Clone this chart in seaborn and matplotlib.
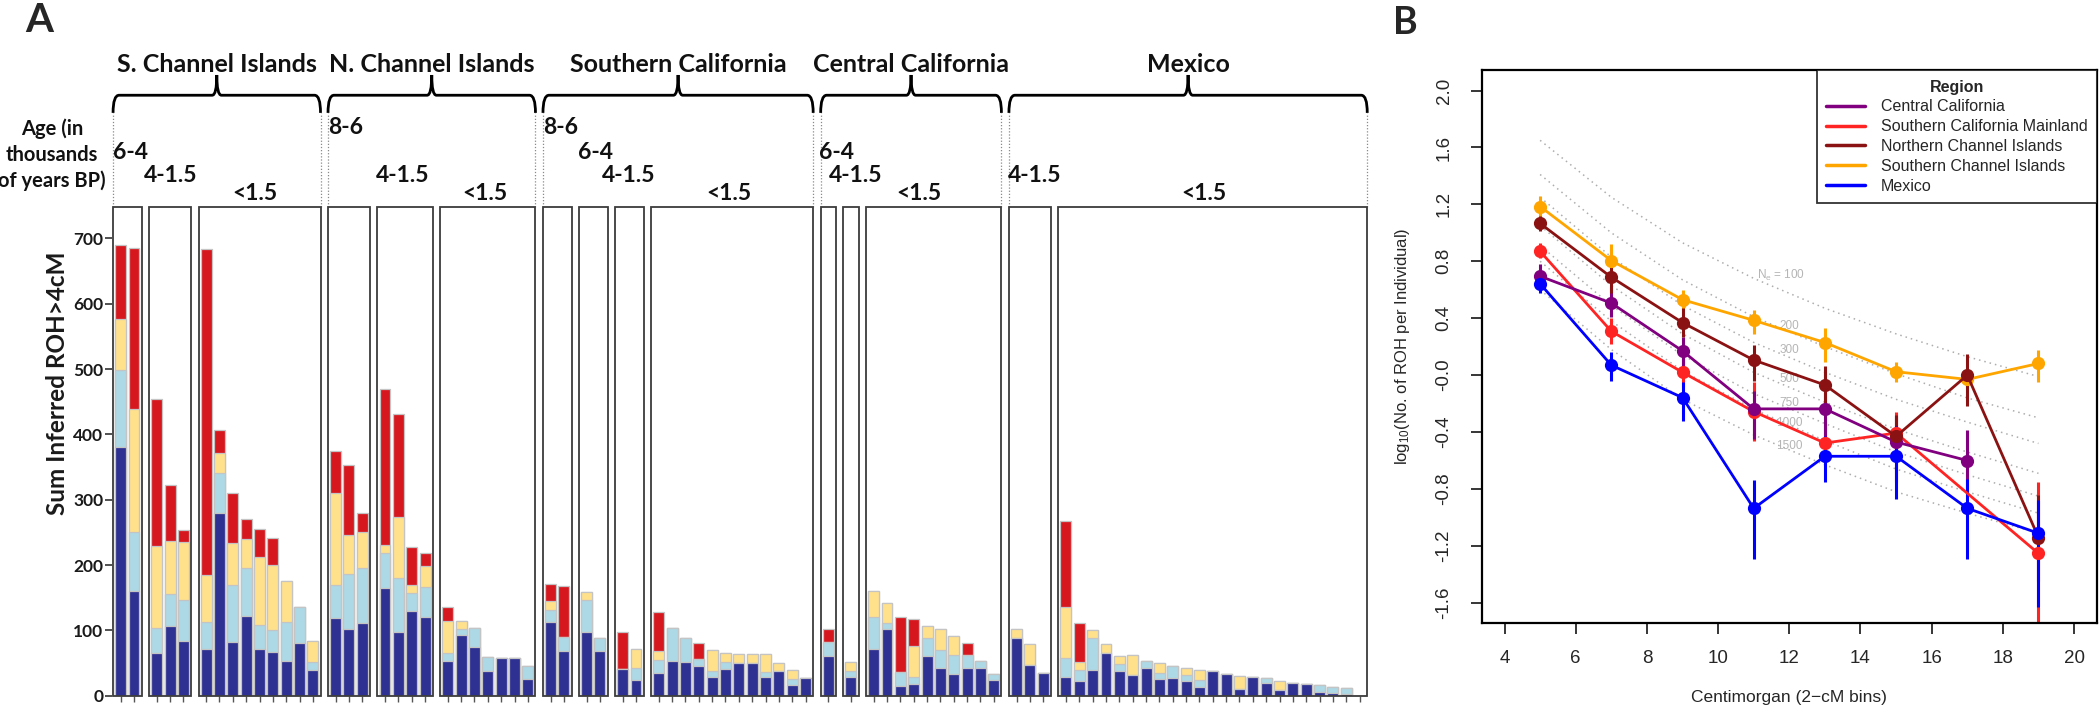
import numpy as np
import pandas as pd
import matplotlib
matplotlib.use('Agg')
import matplotlib.pyplot as plt
import seaborn as sns
from matplotlib.patches import Rectangle, PathPatch
from matplotlib.path import Path
from matplotlib.lines import Line2D

# ---------------- panel A data ----------------
regions = ['S. Channel Islands', 'N. Channel Islands', 'Southern California',
           'Central California', 'Mexico']
age_groups = [['6-4', '4-1.5', '<1.5'],
              ['8-6', '4-1.5', '<1.5'],
              ['8-6', '6-4', '4-1.5', '<1.5'],
              ['6-4', '4-1.5', '<1.5'],
              ['4-1.5', '<1.5']]
group_sizes = [[2, 3, 9], [3, 4, 7], [2, 2, 2, 12], [1, 1, 10], [3, 23]]

# stacked segments per individual (bottom -> top)
seg_dark = [380, 160, 66, 107, 83, 71, 280, 82, 122, 71, 67, 53, 80, 39,
            119, 102, 112, 165, 98, 129, 120, 53, 93, 74, 38, 58, 57, 26,
            113, 69, 97, 69, 41, 24, 34, 53, 51, 46, 28, 41, 50, 50, 28, 38, 16, 27,
            61, 28, 71, 102, 15, 18, 61, 43, 33, 42, 43, 24,
            88, 47, 34, 28, 22, 40, 65, 38, 32, 43, 26, 27, 22, 13, 38, 33, 11, 28,
            19, 8, 19, 18, 6, 4, 3, 0]
seg_light = [118, 91, 37, 48, 63, 42, 61, 87, 74, 37, 33, 60, 56, 12,
             50, 85, 83, 53, 82, 28, 46, 12, 9, 30, 22, 0, 0, 20,
             18, 21, 50, 20, 0, 19, 21, 51, 38, 10, 10, 10, 0, 0, 9, 0, 10, 0,
             21, 10, 49, 10, 21, 10, 28, 27, 30, 20, 10, 9,
             0, 0, 0, 29, 17, 49, 0, 10, 0, 10, 9, 19, 9, 11, 0, 0, 0, 0,
             8, 0, 0, 0, 10, 9, 9, 0]
seg_yellow = [78, 188, 126, 82, 89, 72, 31, 65, 44, 105, 100, 62, 0, 32,
              142, 59, 56, 13, 94, 13, 33, 49, 13, 0, 0, 0, 0, 0,
              14, 0, 12, 0, 0, 28, 14, 0, 0, 0, 32, 14, 14, 14, 27, 12, 14, 0,
              0, 13, 40, 30, 0, 48, 17, 32, 28, 0, 0, 0,
              14, 32, 0, 79, 13, 12, 14, 13, 30, 0, 15, 0, 12, 15, 0, 0, 19, 0,
              0, 14, 0, 0, 0, 0, 0, 0]
seg_red = [114, 246, 225, 86, 19, 498, 35, 77, 30, 42, 42, 0, 0, 0,
           63, 107, 28, 239, 157, 58, 19, 22, 0, 0, 0, 0, 0, 0,
           26, 78, 0, 0, 57, 0, 59, 0, 0, 24, 0, 0, 0, 0, 0, 0, 0, 0,
           20, 0, 0, 0, 84, 41, 0, 0, 0, 19, 0, 0,
           0, 0, 0, 132, 60, 0, 0, 0, 0, 0, 0, 0, 0, 0, 0, 0, 0, 0,
           0, 0, 0, 0, 0, 0, 0, 0]

# ---------------- panel B data ----------------
cm_bins = [5, 7, 9, 11, 13, 15, 17, 19]
nan = np.nan
central_ca = [0.695, 0.506, 0.17, -0.237, -0.237, -0.47, -0.6, nan]
central_ca_lo = [0.60, 0.41, 0.05, -0.45, -0.50, -0.75, -0.80, nan]
central_ca_hi = [0.78, 0.62, 0.27, -0.11, 0.03, -0.29, -0.385, nan]
south_ca = [0.87, 0.308, 0.02, -0.256, -0.477, -0.407, nan, -1.253]
south_ca_lo = [0.82, 0.22, -0.08, -0.46, -0.60, -0.56, nan, -2.0]
south_ca_hi = [0.93, 0.40, 0.12, -0.05, -0.35, -0.26, nan, -0.75]
north_ci = [1.066, 0.688, 0.369, 0.106, -0.069, -0.43, 0.0, -1.141]
north_ci_lo = [1.01, 0.58, 0.27, -0.04, -0.20, -0.58, -0.22, -1.45]
north_ci_hi = [1.12, 0.77, 0.47, 0.21, 0.064, -0.28, 0.15, -0.84]
south_ci = [1.185, 0.805, 0.53, 0.385, 0.229, 0.024, -0.03, 0.082]
south_ci_lo = [1.11, 0.71, 0.46, 0.29, 0.09, -0.05, -0.08, -0.05]
south_ci_hi = [1.26, 0.92, 0.60, 0.455, 0.33, 0.09, 0.02, 0.18]
mexico = [0.642, 0.07, -0.158, -0.936, -0.57, -0.57, -0.936, -1.111]
mexico_lo = [0.58, -0.04, -0.32, -1.29, -0.75, -0.87, -1.29, -1.63]
mexico_hi = [0.70, 0.165, -0.05, -0.74, -0.43, -0.36, -0.73, -0.88]

ne_sizes = ['100', '200', '300', '500', '750', '1000', '1500']
ne_100 = [1.65, 1.25, 0.93, 0.68, 0.47, 0.29, 0.13, -0.01]
ne_200 = [1.41, 1.00, 0.67, 0.41, 0.20, 0.01, -0.16, -0.30]
ne_300 = [1.25, 0.83, 0.49, 0.23, 0.02, -0.17, -0.33, -0.48]
ne_500 = [1.05, 0.63, 0.29, 0.02, -0.19, -0.38, -0.54, -0.69]
ne_750 = [0.91, 0.49, 0.14, -0.13, -0.34, -0.54, -0.70, -0.85]
ne_1000 = [0.80, 0.38, 0.03, -0.24, -0.46, -0.66, -0.82, -0.97]
ne_1500 = [0.60, 0.18, -0.17, -0.42, -0.63, -0.82, -0.97, -1.11]
ne_label_y = [0.70, 0.343, 0.176, -0.03, -0.193, -0.333, -0.50]

sns.set_theme(style='white')
plt.rcParams['font.family'] = ['Lato', 'DejaVu Sans']
plt.rcParams['mathtext.default'] = 'regular'

fig = plt.figure(figsize=(21, 7.11), dpi=100)

# ================= panel A =================
axA = fig.add_axes([0.0532, 0.0215, 0.5987, 0.6874])

gap = 0.7
pad = 0.57
pos = []
boxes = []
reg_ext = []
u = 0.0
for r, sizes in enumerate(group_sizes):
    r_left = None
    for a, n in enumerate(sizes):
        xs = [u + i for i in range(n)]
        pos += xs
        boxes.append((xs[0] - pad, xs[-1] + pad))
        if r_left is None:
            r_left = xs[0] - pad
        u = xs[-1] + 1 + gap
    reg_ext.append((r_left, boxes[-1][1]))

df = pd.DataFrame({'pos': pos, 'dark': seg_dark, 'light': seg_light,
                   'yellow': seg_yellow, 'red': seg_red})
df['c1'] = df['dark']
df['c2'] = df['c1'] + df['light']
df['c3'] = df['c2'] + df['yellow']
df['c4'] = df['c3'] + df['red']

layers = [('c4', '#D7171E'), ('c3', '#FFE08B'), ('c2', '#ADD8E6'), ('c1', '#2E3192')]
for col, colr in layers:
    sns.barplot(data=df, x='pos', y=col, native_scale=True, color=colr,
                saturation=1, width=0.82, edgecolor='#C4C4C4', linewidth=0.9,
                errorbar=None, ax=axA)

TOP = 748
for (l, r) in boxes:
    axA.add_patch(Rectangle((l, 0), r - l, TOP, fill=False, edgecolor='#3C3C3C',
                            lw=1.3, zorder=5, clip_on=False))

axA.set_xlim(-0.67, 93.5)
axA.set_ylim(0, TOP)
for s in axA.spines.values():
    s.set_visible(False)
axA.set_xticks(pos)
axA.set_xticklabels([])
axA.tick_params(axis='x', bottom=True, length=4, width=1, color='#555555', direction='out')
axA.set_yticks(range(0, 701, 100))
axA.tick_params(axis='y', left=True, length=5, width=1.2, color='#333333',
                labelsize=12.5, pad=1, labelcolor='#1a1a1a')
for t in axA.get_yticklabels():
    t.set_fontweight('bold')
axA.set_xlabel('')
axA.set_ylabel('Sum Inferred ROH>4cM', fontsize=17.5, fontweight='bold', va='center',
               color='#1a1a1a')
axA.yaxis.set_label_coords(-0.043, 0.64)


def brace(ax, x0, x1, y_end, y_line, y_tip, curl=0.45, tip=0.35):
    xm = (x0 + x1) / 2
    verts = [(x0, y_end), (x0, y_line), (x0 + curl, y_line),
             (xm - tip, y_line), (xm, y_line), (xm, y_tip),
             (xm, y_line), (xm + tip, y_line),
             (x1 - curl, y_line), (x1, y_line), (x1, y_end)]
    codes = [Path.MOVETO, Path.CURVE3, Path.CURVE3,
             Path.LINETO, Path.CURVE3, Path.CURVE3,
             Path.CURVE3, Path.CURVE3,
             Path.LINETO, Path.CURVE3, Path.CURVE3]
    ax.add_patch(PathPatch(Path(verts, codes), fill=False, lw=2.0,
                           edgecolor='black', clip_on=False))


for name, (l, r) in zip(regions, reg_ext):
    brace(axA, l, r, 892, 919, 950)
    axA.text((l + r) / 2, 955, name, ha='center', va='baseline', fontsize=18,
             fontweight='bold', color='#111111')
    for xx in (l, r):
        axA.plot([xx, xx], [TOP, 892], ls=(0, (1, 1.5)), color='#8a8a8a', lw=0.9,
                 clip_on=False)

age_y = {'8-6': 869, '6-4': 831, '4-1.5': 796, '<1.5': 769}
age_x = [[0.73, 3.77, 10.02], [16.88, 21.11, 27.25], [32.98, 35.57, 38.07, 45.53],
         [53.62, 55.08, 59.8], [68.45, 81.15]]
for labs, xs in zip(age_groups, age_x):
    for lab, xx in zip(labs, xs):
        axA.text(xx, age_y[lab], lab, ha='center', va='center', fontsize=16.5,
                 fontweight='bold', color='#111111')

axA.text(-5.15, 828, 'Age (in\nthousands\nof years BP)', ha='center', va='center',
         multialignment='center', fontsize=14.5, fontweight='bold', linespacing=1.35,
         color='#111111')

fig.text(39 / 2100, 1 - 21 / 711, 'A', fontsize=29, fontweight='bold', ha='center', va='center')
fig.text(1405 / 2100, 1 - 23 / 711, 'B', fontsize=27, fontweight='bold', ha='center', va='center')

# ================= panel B =================
axB = fig.add_axes([0.7056, 0.1233, 0.2929, 0.7782])
helv = ['Liberation Sans', 'DejaVu Sans']

for vals in [ne_100, ne_200, ne_300, ne_500, ne_750, ne_1000, ne_1500]:
    axB.plot(cm_bins, vals, ls=(0, (1, 2.6)), color='#ADADAD', lw=1.1, zorder=1)
for lab, yy in zip(ne_sizes, ne_label_y):
    txt = r'N$_e$ = ' + lab if lab == '100' else lab
    axB.text(12.0 if lab != '100' else 11.78, yy, txt, ha='center', va='center',
             fontsize=8.5, color='#B5B5B5', family=helv, zorder=1.5)

series = {
    'Central California': (central_ca, central_ca_lo, central_ca_hi),
    'Southern California Mainland': (south_ca, south_ca_lo, south_ca_hi),
    'Northern Channel Islands': (north_ci, north_ci_lo, north_ci_hi),
    'Southern Channel Islands': (south_ci, south_ci_lo, south_ci_hi),
    'Mexico': (mexico, mexico_lo, mexico_hi),
}
palette = {'Central California': '#800080',
           'Southern California Mainland': '#FF2424',
           'Northern Channel Islands': '#8B1212',
           'Southern Channel Islands': '#FFA500',
           'Mexico': '#0000FF'}
legend_order = list(series.keys())
draw_order = ['Southern Channel Islands', 'Southern California Mainland',
              'Central California', 'Northern Channel Islands', 'Mexico']

rows = []
for reg, (vals, lo, hi) in series.items():
    for x, v, a, b in zip(cm_bins, vals, lo, hi):
        rows.append({'region': reg, 'cM': x, 'val': v, 'lo': a, 'hi': b})
dfB = pd.DataFrame(rows).dropna()

for reg in draw_order:
    sub = dfB[dfB['region'] == reg]
    axB.vlines(sub['cM'], sub['lo'], sub['hi'], color=palette[reg], lw=2.2, zorder=2)
    sns.lineplot(data=sub, x='cM', y='val', color=palette[reg], marker='o',
                 markersize=9.5, markeredgewidth=0, linewidth=2, errorbar=None,
                 sort=True, ax=axB, zorder=3)

axB.set_xlim(3.36, 20.64)
axB.set_ylim(-1.744, 2.144)
axB.set_xticks(range(4, 21, 2))
axB.set_yticks(np.round(np.arange(-1.6, 2.01, 0.4), 1))
axB.set_yticklabels(['%.1f' % v for v in np.arange(-1.6, 2.01, 0.4)])
for s in axB.spines.values():
    s.set_visible(True)
    s.set_color('black')
    s.set_linewidth(1.6)
axB.tick_params(axis='both', bottom=True, left=True, length=8, width=1.1,
                color='black', labelsize=13.5)
axB.tick_params(axis='x', pad=11)
axB.tick_params(axis='y', pad=13)
for t in axB.get_xticklabels() + axB.get_yticklabels():
    t.set_family(helv)
for t in axB.get_yticklabels():
    t.set_rotation(90)
    t.set_va('center')
axB.set_xlabel('Centimorgan (2\u2212cM bins)', fontsize=12.5, family=helv)
axB.xaxis.set_label_coords(0.5, -0.12)
axB.set_ylabel(r'log$_{10}$(No. of ROH per Individual)', fontsize=12, family=helv)
axB.yaxis.set_label_coords(-0.114, 0.5)

handles = [Line2D([], [], color=palette[r], lw=2.5) for r in legend_order]
leg = axB.legend(handles, legend_order, title='Region', loc='upper right',
                 bbox_to_anchor=(1, 1), borderaxespad=0, frameon=True, fancybox=False,
                 edgecolor='black', prop={'family': helv, 'size': 11.5},
                 title_fontproperties={'family': helv, 'weight': 'bold', 'size': 11.5},
                 handlelength=2.4, labelspacing=0.3, borderpad=0.6, handletextpad=1.0)
leg.get_frame().set_linewidth(1.3)
leg.set_zorder(10)

fig.savefig('out.png', dpi=100)
